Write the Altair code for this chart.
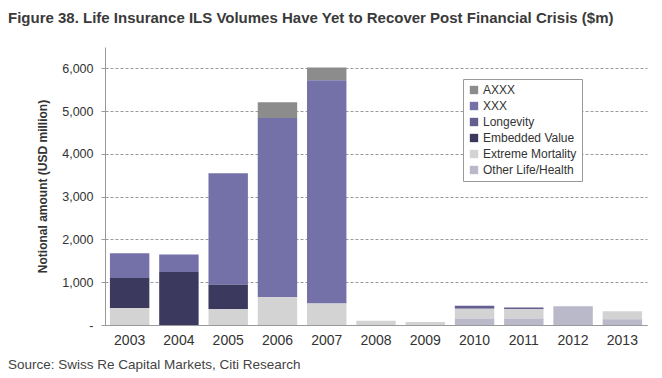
import altair as alt
import pandas as pd

years = ["2003", "2004", "2005", "2006", "2007", "2008", "2009", "2010", "2011", "2012", "2013"]
series = ["AXXX", "XXX", "Longevity", "Embedded Value", "Extreme Mortality", "Other Life/Health"]
colors = ["#8c8c8c", "#7470a8", "#625e90", "#3c395e", "#d3d3d3", "#b9b9ca"]

axxx = [0, 0, 0, 370, 300, 0, 0, 0, 0, 0, 0]
xxx = [580, 410, 2610, 4190, 5215, 0, 0, 0, 0, 0, 0]
longevity = [0, 0, 0, 0, 0, 0, 0, 70, 40, 0, 0]
embedded = [700, 1240, 570, 0, 0, 0, 0, 0, 0, 0, 0]
extreme = [400, 0, 370, 650, 505, 100, 70, 230, 220, 0, 185]
other = [0, 0, 0, 0, 0, 0, 0, 150, 150, 440, 135]

values = {
    "AXXX": axxx,
    "XXX": xxx,
    "Longevity": longevity,
    "Embedded Value": embedded,
    "Extreme Mortality": extreme,
    "Other Life/Health": other,
}

rows = []
for s in series:
    for y, v in zip(years, values[s]):
        rows.append({"year": y, "series": s, "value": v, "ord": len(series) - series.index(s)})
df = pd.DataFrame(rows)

FONT = "Liberation Sans"
W, H = 542, 278

bars = alt.Chart(df).mark_bar().encode(
    x=alt.X("year:N", sort=years, title=None,
            scale=alt.Scale(paddingInner=0.2, paddingOuter=0.1),
            axis=alt.Axis(labelAngle=0, ticks=False, domainColor="#999", labelFont=FONT,
                          labelFontSize=14, labelColor="#333", labelPadding=8)),
    y=alt.Y("value:Q", stack="zero", title="Notional amount (USD million)",
            scale=alt.Scale(domain=[0, 6500], nice=False),
            axis=alt.Axis(values=[0, 1000, 2000, 3000, 4000, 5000, 6000],
                          labelExpr="datum.value == 0 ? '-' : format(datum.value, ',')",
                          grid=True, gridDash=[3, 2], gridColor="#9a9a9a",
                          domainColor="#999", tickColor="#999", tickSize=4,
                          labelFont=FONT, labelFontSize=12.5, labelColor="#333", labelPadding=8,
                          titleFont=FONT, titleFontSize=12, titleFontWeight="bold",
                          titleColor="#333", titlePadding=12)),
    color=alt.Color("series:N", scale=alt.Scale(domain=series, range=colors),
                    legend=alt.Legend(title=None, orient="none", legendX=358, legendY=32,
                                      symbolType="square", symbolSize=70, symbolStrokeWidth=0,
                                      labelFont=FONT, labelFontSize=12, labelColor="#333",
                                      strokeColor="#999", fillColor="white", padding=5,
                                      rowPadding=4, labelOffset=3)),
    order=alt.Order("ord:Q", sort="ascending"),
)

source_df = pd.DataFrame({"t": ["Source: Swiss Re Capital Markets, Citi Research"]})
source = alt.Chart(source_df).mark_text(align="left", baseline="middle", font=FONT,
                                         fontSize=13.5, color="#444").encode(
    x=alt.value(-97), y=alt.value(318), text="t:N")

chart = alt.layer(bars, source).properties(
    width=W, height=H,
    padding={"left": 97, "top": 39, "right": 7, "bottom": 55},
    autosize=alt.AutoSizeParams(type="none"),
    title=alt.TitleParams(
        text="Figure 38. Life Insurance ILS Volumes Have Yet to Recover Post Financial Crisis ($m)",
        anchor="start", frame="group", dx=-97, offset=21, font=FONT, fontSize=15,
        fontWeight="bold", color="#3a3a3a"),
).configure_view(stroke=None)

chart.save("out.html", embed_options={"renderer": "svg", "actions": False})
